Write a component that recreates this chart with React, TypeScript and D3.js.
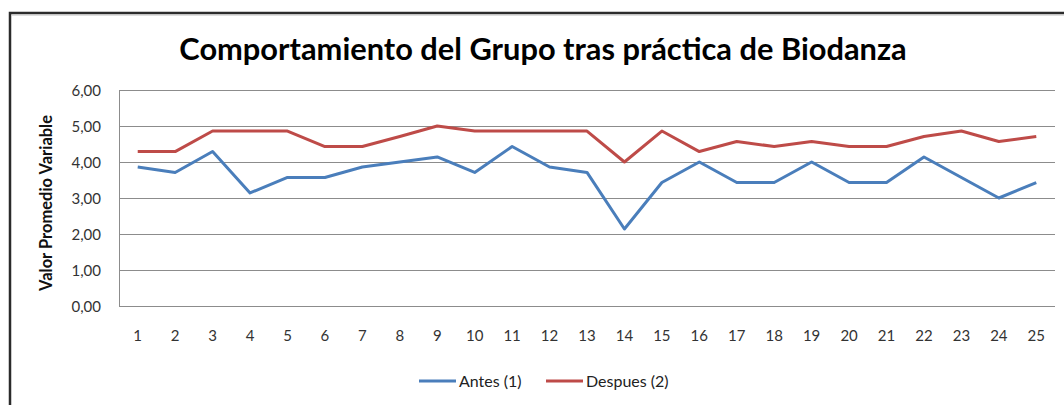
import React, { useEffect, useRef } from "react";
import * as d3 from "d3";

const categories = Array.from({ length: 25 }, (_, i) => String(i + 1));
const antes = [3.86, 3.71, 4.29, 3.14, 3.57, 3.57, 3.86, 4.0, 4.14, 3.71, 4.43, 3.86, 3.71, 2.14, 3.43, 4.0, 3.43, 3.43, 4.0, 3.43, 3.43, 4.14, 3.57, 3.0, 3.43];
const despues = [4.29, 4.29, 4.86, 4.86, 4.86, 4.43, 4.43, 4.71, 5.0, 4.86, 4.86, 4.86, 4.86, 4.0, 4.86, 4.29, 4.57, 4.43, 4.57, 4.43, 4.43, 4.71, 4.86, 4.57, 4.71];
const yTicks = [0, 1, 2, 3, 4, 5, 6];
const seriesNames = ["Antes (1)", "Despues (2)"];
const colors = ["#4A7EBB", "#BE4B48"];

const FONT = "Lato, 'Open Sans', sans-serif";

export default function App() {
  const ref = useRef<SVGSVGElement>(null);

  useEffect(() => {
    const svg = d3.select(ref.current);
    svg.selectAll("*").remove();

    const width = 1064;
    const height = 405;
    const margin = { top: 90, right: 9, bottom: 99, left: 119 };

    svg.append("rect").attr("width", width).attr("height", height).attr("fill", "#fff");

    // outer frame (cut off at right/bottom like the screenshot)
    svg.append("rect")
      .attr("x", 10).attr("y", 13)
      .attr("width", width + 50).attr("height", height + 50)
      .attr("fill", "none").attr("stroke", "#2b2b2b").attr("stroke-width", 2.5);
    svg.append("line").attr("x1", 12).attr("x2", width).attr("y1", 15).attr("y2", 15)
      .attr("stroke", "#bdbdbd").attr("stroke-width", 1);

    const x = d3.scaleBand()
      .domain(categories)
      .range([margin.left, width - margin.right]);

    const y = d3.scaleLinear()
      .domain([0, 6])
      .range([height - margin.bottom, margin.top]);

    // gridlines
    svg.append("g")
      .selectAll("line")
      .data(yTicks)
      .enter()
      .append("line")
      .attr("x1", margin.left)
      .attr("x2", width - margin.right)
      .attr("y1", d => Math.round(y(d)) + 0.5)
      .attr("y2", d => Math.round(y(d)) + 0.5)
      .attr("stroke", "#8c8c8c")
      .attr("stroke-width", 1);

    svg.append("line")
      .attr("x1", margin.left + 0.5).attr("x2", margin.left + 0.5)
      .attr("y1", y(6)).attr("y2", y(0) + 0.5)
      .attr("stroke", "#8c8c8c");

    // y tick labels
    svg.append("g")
      .selectAll("text")
      .data(yTicks)
      .enter()
      .append("text")
      .attr("x", 101)
      .attr("y", d => y(d) + 5.5)
      .attr("text-anchor", "end")
      .attr("font-family", FONT)
      .attr("font-size", 15)
      .attr("fill", "#333")
      .text(d => d.toFixed(2).replace(".", ","));

    // x tick labels
    svg.append("g")
      .selectAll("text")
      .data(categories)
      .enter()
      .append("text")
      .attr("x", d => (x(d) as number) + x.bandwidth() / 2)
      .attr("y", 341)
      .attr("text-anchor", "middle")
      .attr("font-family", FONT)
      .attr("font-size", 15)
      .attr("fill", "#333")
      .text(d => d);

    // y axis title
    svg.append("text")
      .attr("transform", "translate(52,203) rotate(-90)")
      .attr("text-anchor", "middle")
      .attr("font-family", FONT)
      .attr("font-size", 16.5)
      .attr("font-weight", "bold")
      .attr("fill", "#111")
      .text("Valor Promedio Variable");

    // title
    svg.append("text")
      .attr("x", 543)
      .attr("y", 60)
      .attr("text-anchor", "middle")
      .attr("font-family", FONT)
      .attr("font-size", 30.8)
      .attr("font-weight", "bold")
      .attr("fill", "#000")
      .text("Comportamiento del Grupo tras práctica de Biodanza");

    const lineGen = d3.line<number>()
      .x((_, i) => (x(categories[i]) as number) + x.bandwidth() / 2)
      .y(d => y(d));

    [antes, despues].forEach((s, i) => {
      svg.append("path")
        .datum(s)
        .attr("fill", "none")
        .attr("stroke", colors[i])
        .attr("stroke-width", 3)
        .attr("stroke-linejoin", "round")
        .attr("d", lineGen);
    });

    // legend
    const legendX = [419, 546];
    seriesNames.forEach((name, i) => {
      const g = svg.append("g").attr("transform", `translate(${legendX[i]},381)`);
      g.append("line").attr("x1", 0).attr("x2", 37).attr("y1", 0).attr("y2", 0)
        .attr("stroke", colors[i]).attr("stroke-width", 3);
      g.append("text").attr("x", 40).attr("y", 6)
        .attr("font-family", FONT).attr("font-size", 16).attr("fill", "#222")
        .text(name);
    });
  }, []);

  return (
    <svg
      ref={ref}
      width={1064}
      height={405}
      style={{ position: "absolute", left: 0, top: 0, display: "block" }}
    />
  );
}
